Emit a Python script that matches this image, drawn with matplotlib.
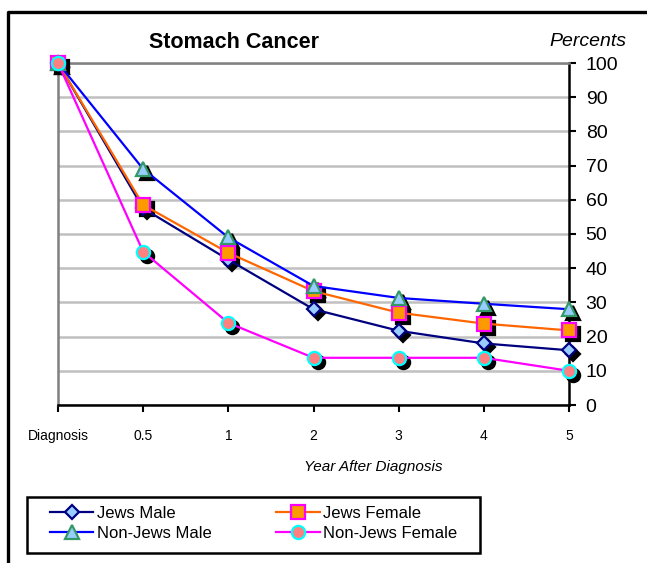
import matplotlib
matplotlib.use("Agg")
import matplotlib.pyplot as plt
import matplotlib.transforms as mtransforms
from matplotlib.lines import Line2D
from matplotlib.patches import Rectangle

plt.rcParams['font.family'] = ['Liberation Sans', 'DejaVu Sans']

# survival (%) by time after diagnosis
categories = ['Diagnosis', '0.5', '1', '2', '3', '4', '5']
jews_male = [100, 57.5, 42.5, 28, 21.7, 18, 16]
jews_female = [100, 58.5, 44.5, 33.3, 27, 23.8, 21.8]
nonjews_male = [100, 69, 49, 34.8, 31.3, 29.6, 28]
nonjews_female = [100, 44.8, 24, 13.8, 13.8, 13.8, 10]

series = [
    ('Jews Male', jews_male, '#000080', 'D', 7, '#99ccff', '#000080'),
    ('Jews Female', jews_female, '#ff6600', 's', 10.5, '#ff9900', '#ff00ff'),
    ('Non-Jews Male', nonjews_male, '#0000ff', '^', 10, '#99ccff', '#339966'),
    ('Non-Jews Female', nonjews_female, '#ff00ff', 'o', 9.5, '#ff8080', '#00ffff'),
]

W, H = 647, 563
fig = plt.figure(figsize=(W / 100, H / 100), dpi=100)
ax = fig.add_axes([58 / W, 1 - 405 / H, (569 - 58) / W, (405 - 63) / H])

x = list(range(len(categories)))

# drop shadows behind the markers
shadow = mtransforms.offset_copy(ax.transData, fig=fig, x=4, y=-4, units='dots')
for name, vals, lc, mk, ms, fc, ec in series:
    ax.plot(x, vals, linestyle='none', marker=mk, markersize=ms, color='black',
            markeredgewidth=1.6, transform=shadow, clip_on=False, zorder=3)

handles = []
for i, (name, vals, lc, mk, ms, fc, ec) in enumerate(series):
    ln, = ax.plot(x, vals, color=lc, linewidth=1.6, marker=mk, markersize=ms,
                  markerfacecolor=fc, markeredgecolor=ec, markeredgewidth=1.6,
                  clip_on=False, zorder=4 + i, label=name)
    handles.append(ln)

ax.set_xlim(0, 6)
ax.set_ylim(0, 100)
ax.set_yticks(range(0, 101, 10))
ax.set_xticks(x)
ax.set_xticklabels(categories, fontsize=10)
ax.yaxis.tick_right()
ax.tick_params(axis='y', direction='out', length=5, width=1.5, labelsize=14, pad=7)
ax.tick_params(axis='x', direction='out', length=5, width=1.5, pad=12)

ax.grid(axis='y', color='#c0c0c0', linewidth=1.8)
ax.set_axisbelow(True)
for side in ['top', 'left']:
    ax.spines[side].set_color('#808080')
    ax.spines[side].set_linewidth(1.8)
for side in ['bottom', 'right']:
    ax.spines[side].set_color('black')
    ax.spines[side].set_linewidth(1.8)

fig.text(234 / W, 1 - 43 / H, 'Stomach Cancer', fontsize=15.5, fontweight='bold',
         ha='center', va='center')
fig.text(626 / W, 1 - 42 / H, 'Percents', fontsize=14, style='italic',
         ha='right', va='center')
fig.text(443 / W, 1 - 467 / H, 'Year After Diagnosis', fontsize=11, style='italic',
         ha='right', va='center')

# legend: two columns inside a plain black box
order = [handles[0], handles[2], handles[1], handles[3]]
fig.legend(handles=order, labels=[h.get_label() for h in order], ncol=2,
           loc='center', bbox_to_anchor=(50 / W, 1 - 548 / H, 407 / W, 50 / H),
           mode='expand', frameon=False, fontsize=12, handlelength=2.6,
           handletextpad=0.2, labelspacing=0.3, borderpad=0, borderaxespad=0)
fig.add_artist(Rectangle((27 / W, 1 - 553 / H), 453 / W, 56 / H,
                         transform=fig.transFigure, fill=False,
                         edgecolor='black', linewidth=1.8))

# outer frame (left and top edges)
fig.add_artist(Line2D([7.5 / W, 7.5 / W, 1], [0, 1 - 11.5 / H, 1 - 11.5 / H],
                      transform=fig.transFigure, color='black', linewidth=2.4))

fig.savefig('out.png', dpi=100)
